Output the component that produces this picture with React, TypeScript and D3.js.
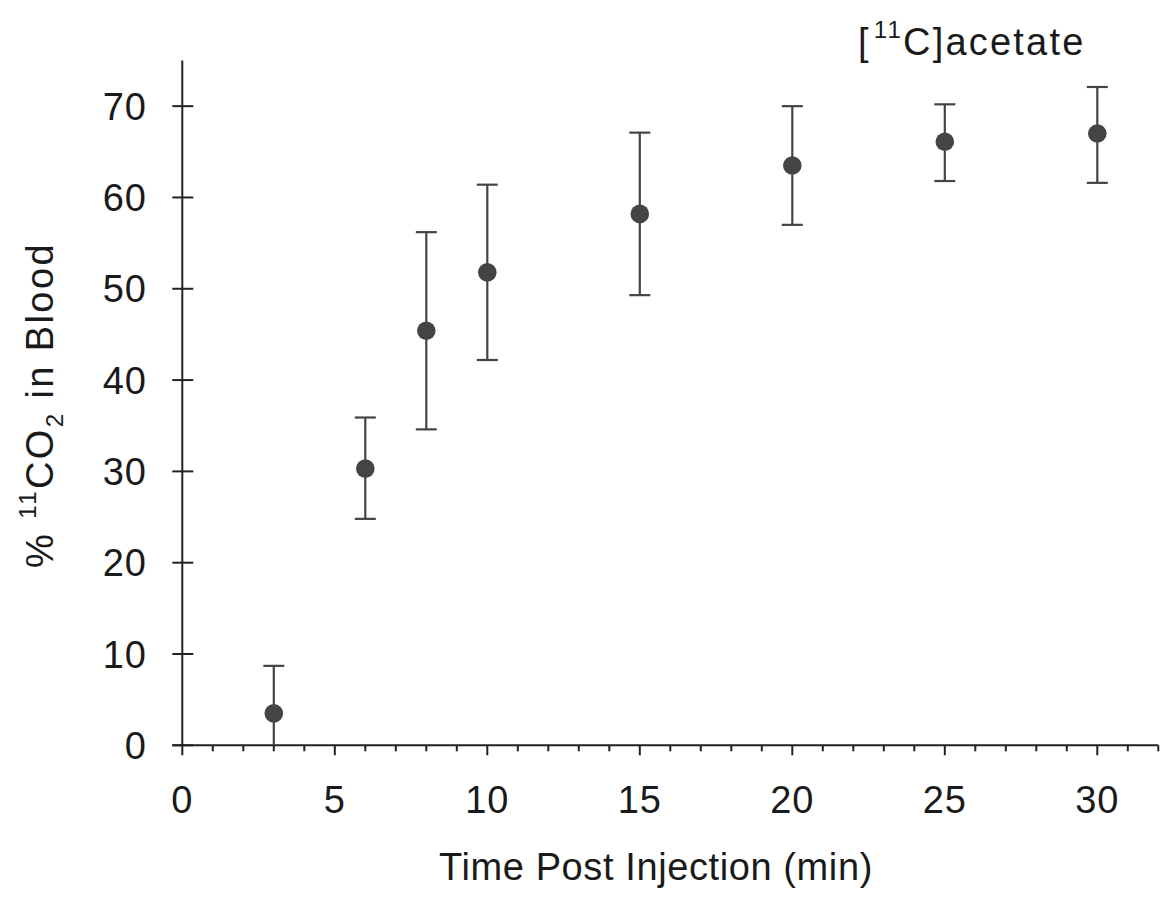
import React from "react";
import * as d3 from "d3";

const times = [3, 6, 8, 10, 15, 20, 25, 30];
const means = [3.5, 30.3, 45.4, 51.8, 58.2, 63.5, 66.1, 67.0];
const upper = [8.7, 35.9, 56.2, 61.4, 67.1, 70.0, 70.2, 72.1];
const lower = [-1.7, 24.8, 34.6, 42.2, 49.3, 57.0, 61.8, 61.6];
const yTicks = [0, 10, 20, 30, 40, 50, 60, 70];
const xMajorTicks = [0, 5, 10, 15, 20, 25, 30];
const xMinorTicks = d3.range(0, 33, 1);

const W = 1163;
const H = 899;
const FONT = "'Liberation Sans', Arial, Helvetica, sans-serif";

export default function App() {
  const x = d3.scaleLinear().domain([0, 32]).range([182.3, 1158.3]);
  const y = d3.scaleLinear().domain([0, 75]).range([745.3, 60.5]);
  const axisColor = "#222";
  const markColor = "#444";
  const textColor = "#1a1a1a";
  const fs = 38;

  return (
    <svg width={W} height={H} style={{ position: "absolute", left: 0, top: 0, background: "#fff" }}>
      {/* y axis */}
      <line x1={x(0)} x2={x(0)} y1={y(75)} y2={y(0)} stroke={axisColor} strokeWidth={2} />
      {yTicks.map((t) => (
        <g key={"yt" + t}>
          <line x1={x(0) - 10} x2={x(0) + 11} y1={y(t)} y2={y(t)} stroke={axisColor} strokeWidth={2} />
          <text x={147} y={y(t)} dy="0.36em" textAnchor="end" fontSize={fs} fontFamily={FONT} fill={textColor} letterSpacing={1}>
            {t}
          </text>
        </g>
      ))}
      {/* x axis */}
      <line x1={x(0) - 10} x2={x(32)} y1={y(0)} y2={y(0)} stroke={axisColor} strokeWidth={2} />
      {xMinorTicks.map((t) => (
        <line key={"xm" + t} x1={x(t)} x2={x(t)} y1={y(0)} y2={y(0) + (t % 5 === 0 ? 10 : 6)} stroke={axisColor} strokeWidth={2} />
      ))}
      {xMajorTicks.map((t) => (
        <text key={"xl" + t} x={x(t)} y={813} textAnchor="middle" fontSize={fs} fontFamily={FONT} fill={textColor} letterSpacing={1}>
          {t}
        </text>
      ))}
      {/* error bars */}
      {times.map((t, i) => {
        const lo = Math.max(lower[i], 0);
        const showLowCap = lower[i] >= 0;
        return (
          <g key={"eb" + t} stroke={markColor} strokeWidth={2.2}>
            <line x1={x(t)} x2={x(t)} y1={y(upper[i])} y2={y(lo)} />
            <line x1={x(t) - 10.5} x2={x(t) + 10.5} y1={y(upper[i])} y2={y(upper[i])} />
            {showLowCap && <line x1={x(t) - 10.5} x2={x(t) + 10.5} y1={y(lower[i])} y2={y(lower[i])} />}
          </g>
        );
      })}
      {/* points */}
      {times.map((t, i) => (
        <circle key={"pt" + t} cx={x(t)} cy={y(means[i])} r={9.3} fill={markColor} />
      ))}
      {/* title */}
      <text x={858} y={55} fontSize={fs} fontFamily={FONT} fill={textColor} letterSpacing={2.2}>
        [<tspan fontSize={24} dy={-17} dx={3}>11</tspan>
        <tspan dy={17}>C]acetate</tspan>
      </text>
      {/* x title */}
      <text x={656} y={880} textAnchor="middle" fontSize={fs} fontFamily={FONT} fill={textColor} letterSpacing={0.6}>
        Time Post Injection (min)
      </text>
      {/* y title */}
      <text transform={`translate(53,405) rotate(-90)`} textAnchor="middle" fontSize={fs} fontFamily={FONT} fill={textColor} letterSpacing={2.4}>
        {"% "}
        <tspan fontSize={24} dy={-17}>11</tspan>
        <tspan dy={17}>CO</tspan>
        <tspan fontSize={24} dy={10}>2</tspan>
        <tspan dy={-10}> in Blood</tspan>
      </text>
    </svg>
  );
}
